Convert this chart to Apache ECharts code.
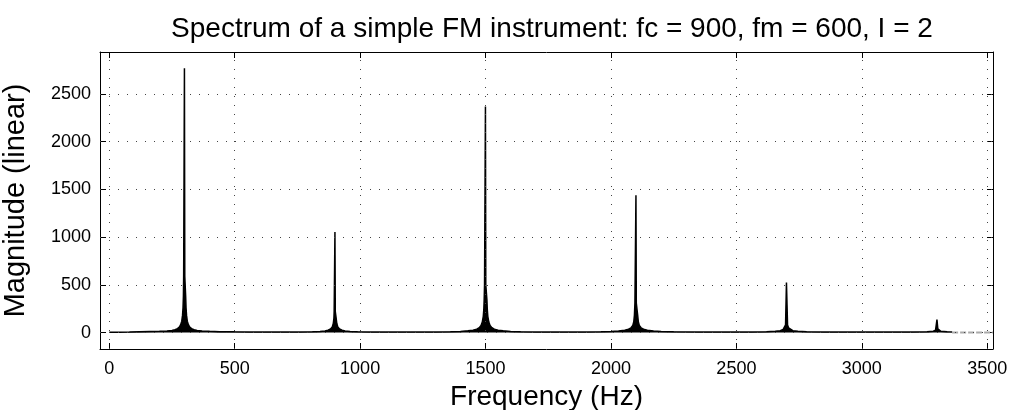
<!DOCTYPE html>
<html>
<head>
<meta charset="utf-8">
<script src="https://cdn.jsdelivr.net/npm/echarts@6/dist/echarts.min.js"></script>
<style>
html,body{margin:0;padding:0;background:#fff;}
#chart{width:1011px;height:410px;}
</style>
</head>
<body>
<div id="chart"></div>
<script>
// Spectrum samples (frequency in Hz, magnitude linear)
const freqHz = [
  0, 40, 80, 120, 160, 200, 230, 250, 262, 272, 280, 285, 289, 292, 294, 295.5, 296.5, 299, 299.6, 300.4, 301, 303.5, 304.5, 306, 308, 311, 315, 320, 328, 338, 350, 370, 400, 440, 500, 560, 620, 700, 760, 810, 840, 860, 872, 882, 889, 893, 895.5, 896.5, 899, 899.6, 900.4, 901, 903.5, 904.5, 907, 911, 918, 928, 940, 960, 990, 1040, 1100, 1200, 1300, 1360, 1400, 1430, 1450, 1465, 1475, 1482, 1487, 1491, 1493, 1494.5, 1496, 1499, 1499.6, 1500.4, 1501, 1504, 1505.5, 1507, 1509, 1513, 1518, 1525, 1535, 1550, 1570, 1600, 1640, 1700, 1800, 1900, 1960, 2000, 2030, 2055, 2070, 2080, 2087, 2091, 2093.5, 2095.5, 2099, 2099.6, 2100.4, 2101, 2104.5, 2106.5, 2109, 2113, 2120, 2130, 2145, 2170, 2200, 2250, 2350, 2450, 2560, 2620, 2655, 2675, 2686, 2692, 2696, 2699.6, 2700.4, 2704, 2708, 2714, 2725, 2745, 2780, 2850, 2950, 3100, 3200, 3260, 3285, 3294, 3297, 3299.6, 3300.4, 3303, 3306, 3315, 3340, 3360
];
const magnitude = [
  4, 4, 6, 9, 11, 13, 17, 22, 30, 42, 60, 85, 120, 180, 260, 380, 590, 590, 2770, 2770, 590, 590, 380, 260, 180, 120, 85, 60, 42, 30, 22, 17, 13, 10, 8, 7, 6, 6, 7, 9, 12, 17, 25, 38, 60, 95, 150, 220, 220, 1055, 1055, 220, 220, 150, 95, 60, 38, 25, 17, 12, 9, 7, 6, 5, 6, 8, 12, 18, 25, 36, 52, 75, 110, 170, 240, 340, 500, 500, 2370, 2370, 500, 500, 340, 240, 170, 110, 75, 52, 36, 25, 18, 12, 8, 6, 5, 6, 8, 11, 16, 24, 35, 50, 75, 115, 180, 310, 310, 1440, 1440, 310, 310, 180, 115, 75, 50, 35, 24, 16, 11, 8, 6, 5, 6, 8, 13, 20, 32, 50, 80, 525, 525, 80, 50, 32, 20, 13, 8, 6, 5, 5, 6, 8, 14, 25, 40, 136, 136, 40, 25, 14, 8, 5
];
// faint tail of the spectrum at the right end
const tailHz = [3360, 3523];
const tailMag = [0, 0];

const xTicks = [0, 500, 1000, 1500, 2000, 2500, 3000, 3500];
const yTicks = [0, 500, 1000, 1500, 2000, 2500];
const xRange = [-37, 3523];
const yRange = [-172, 2940];

const titleText = 'Spectrum of a simple FM instrument: fc = 900, fm = 600, I = 2';
const xName = 'Frequency (Hz)';
const yName = 'Magnitude (linear)';

const FONT = "'Liberation Sans', Arial, Helvetica, sans-serif";

const chart = echarts.init(document.getElementById('chart'), null, {renderer: 'canvas'});

const specData = freqHz.map((f, i) => [f, magnitude[i]]);
const tailData = tailHz.map((f, i) => [f, tailMag[i]]);
const plain = v => String(v);

const option = {
  animation: false,
  backgroundColor: '#ffffff',
  title: {
    text: titleText,
    left: 547, textAlign: 'center', top: 10,
    textStyle: {fontFamily: FONT, fontSize: 28, fontWeight: 'normal', color: '#000'}
  },
  grid: {left: 100, top: 52, right: 18, bottom: 61, containLabel: false, outerBoundsMode: 'none'},
  xAxis: [{
    type: 'value', min: xRange[0], max: xRange[1],
    name: xName, nameLocation: 'middle', nameGap: 27,
    nameTextStyle: {fontFamily: FONT, fontSize: 28, color: '#000'},
    axisLine: {show: true, onZero: false, lineStyle: {color: '#000', width: 1}},
    axisTick: {show: true, inside: true, length: 6, customValues: xTicks, lineStyle: {color: '#000'}},
    axisLabel: {show: true, customValues: xTicks, formatter: plain, margin: 11, fontFamily: FONT, fontSize: 18, color: '#000'},
    splitLine: {show: false}
  }, {
    type: 'value', min: xRange[0], max: xRange[1], position: 'top',
    axisLine: {show: true, onZero: false, lineStyle: {color: '#000', width: 1}},
    axisTick: {show: true, inside: true, length: 6, customValues: xTicks, lineStyle: {color: '#000'}},
    axisLabel: {show: false},
    splitLine: {show: false}
  }],
  yAxis: [{
    type: 'value', min: yRange[0], max: yRange[1],
    name: yName, nameLocation: 'middle', nameGap: 70, nameRotate: 90,
    nameTextStyle: {fontFamily: FONT, fontSize: 29, color: '#000'},
    axisLine: {show: true, onZero: false, lineStyle: {color: '#000', width: 1}},
    axisTick: {show: true, inside: true, length: 6, customValues: yTicks, lineStyle: {color: '#000'}},
    axisLabel: {show: true, customValues: yTicks, formatter: plain, margin: 9, fontFamily: FONT, fontSize: 18, color: '#000'},
    splitLine: {show: false}
  }, {
    type: 'value', min: yRange[0], max: yRange[1], position: 'right',
    axisLine: {show: true, onZero: false, lineStyle: {color: '#000', width: 1}},
    axisTick: {show: true, inside: true, length: 6, customValues: yTicks, lineStyle: {color: '#000'}},
    axisLabel: {show: false},
    splitLine: {show: false}
  }],
  series: [{
    type: 'line', name: 'grid', data: [], silent: true,
    markLine: {
      silent: true, symbol: ['none', 'none'], label: {show: false},
      lineStyle: {color: '#444', width: 1, type: [1, 8]},
      data: xTicks.map(v => ({xAxis: v})).concat(yTicks.map(v => ({yAxis: v})))
    },
    z: 1
  }, {
    type: 'line', name: 'tail', data: tailData, symbol: 'none',
    lineStyle: {color: '#aaa', width: 2, type: [6, 2]}, z: 2
  }, {
    type: 'line', name: 'spectrum', data: specData, symbol: 'none', showSymbol: false,
    lineStyle: {color: '#000', width: 1.5},
    areaStyle: {color: '#000', opacity: 1, origin: 0},
    z: 3
  }]
};
chart.setOption(option);
</script>
</body>
</html>
